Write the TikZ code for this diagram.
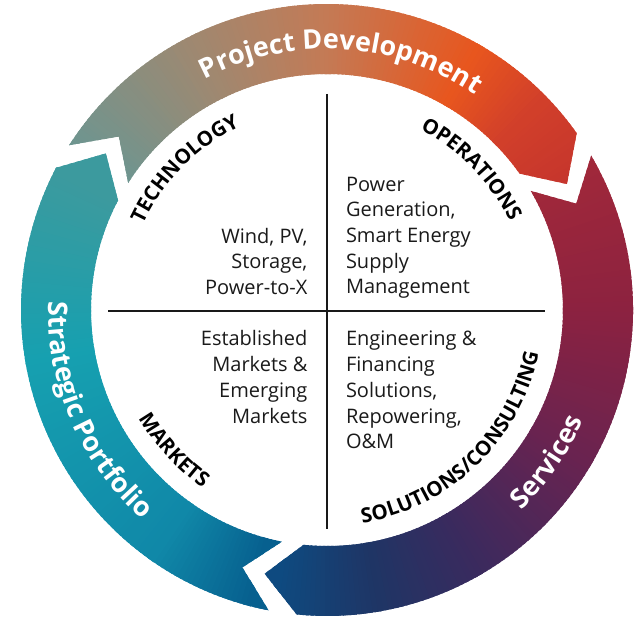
\documentclass[tikz,border=0pt]{standalone}
\usepackage{fontspec}
\setmainfont{Open Sans}
\usetikzlibrary{decorations.text,calc}

\definecolor{pdA}{HTML}{6E9590}
\definecolor{pdB}{HTML}{A08870}
\definecolor{pdC}{HTML}{C47A55}
\definecolor{pdD}{HTML}{E8561E}
\definecolor{pdE}{HTML}{D2402A}
\definecolor{pdF}{HTML}{C0302E}
\definecolor{svA}{HTML}{A82A38}
\definecolor{svB}{HTML}{8C2240}
\definecolor{svC}{HTML}{6A2350}
\definecolor{svD}{HTML}{3A2A5E}
\definecolor{svE}{HTML}{1F3565}
\definecolor{svF}{HTML}{0E4A80}
\definecolor{spA}{HTML}{07608F}
\definecolor{spB}{HTML}{1088A8}
\definecolor{spC}{HTML}{16A0B0}
\definecolor{spD}{HTML}{3C9A9E}
\definecolor{bodytext}{HTML}{1A1A1A}

% clip to one ring arrow: tail angle, head angle (clockwise)
\newcommand\cliparrow[2]{%
  \clip ($(C)+(#1:306pt)$) arc[start angle=#1, end angle=#2, radius=306pt]
    -- ($(C)+({#2-7.6}:271pt)$) -- ($(C)+(#2:236pt)$)
    arc[start angle=#2, end angle=#1, radius=236pt]
    -- ($(C)+({#1-7.2}:271pt)$) -- cycle;}

% angular gradient wedges from angle #1 down to #2, colour #3 -> #4
\newcommand\gradseg[4]{%
  \pgfmathtruncatemacro\gsn{#1-(#2)}%
  \foreach \i in {0,...,\gsn}{%
    \pgfmathsetmacro\gsa{#1-\i}%
    \pgfmathtruncatemacro\gsp{100*\i/\gsn}%
    \fill[#4!\gsp!#3] (C) -- ($(C)+({\gsa+0.6}:335pt)$) -- ($(C)+({\gsa-1}:335pt)$) -- cycle;
  }}

\tikzset{
  ringlabel/.style={decorate, decoration={text along path, text align=center, text={#1}}},
  body/.style={font=\fontsize{20}{25.7}\selectfont, text=bodytext, inner sep=0pt},
  quadline/.style={line width=1.8pt, draw=black!90}
}

\begin{document}
\begin{tikzpicture}[x=1pt,y=1pt]
\useasboundingbox (0,0) rectangle (641,618);
\coordinate (C) at (327,308);

% Project Development arrow
\begin{scope}
  \cliparrow{147.4}{35.3}
  \gradseg{160}{147}{pdA}{pdA}
  \gradseg{147}{116}{pdA}{pdB}
  \gradseg{116}{90}{pdB}{pdC}
  \gradseg{90}{60}{pdC}{pdD}
  \gradseg{60}{45}{pdD}{pdE}
  \gradseg{45}{20}{pdE}{pdF}
\end{scope}

% Services arrow
\begin{scope}
  \cliparrow{30.3}{-95.7}
  \gradseg{40}{0}{svA}{svB}
  \gradseg{0}{-30}{svB}{svC}
  \gradseg{-30}{-60}{svC}{svD}
  \gradseg{-60}{-80}{svD}{svE}
  \gradseg{-80}{-100}{svE}{svF}
  \gradseg{-100}{-112}{svF}{svF}
\end{scope}

% Strategic Portfolio arrow
\begin{scope}
  \cliparrow{-101}{-207.7}
  \gradseg{-90}{-105}{spA}{spA}
  \gradseg{-105}{-125}{spA}{spB}
  \gradseg{-125}{-170}{spB}{spC}
  \gradseg{-170}{-207}{spC}{spD}
  \gradseg{-207}{-222}{spD}{spD}
\end{scope}

% ring labels
\path[ringlabel={|\fontsize{27}{30}\selectfont\bfseries\color{white}|Project Development}]
  ($(C)+(146.7:261pt)$) arc[start angle=146.7, end angle=26.7, radius=261pt];
\path[ringlabel={|\fontsize{27}{30}\selectfont\bfseries\color{white}|Strategic Portfolio}]
  ($(C)+(143.5:279pt)$) arc[start angle=143.5, end angle=263.5, radius=279pt];
\path[ringlabel={|\fontsize{27}{30}\selectfont\bfseries\color{white}|Services}]
  ($(C)+(265.4:279pt)$) arc[start angle=265.4, end angle=385.4, radius=279pt];

% quadrant lines
\coordinate (qt) at (327,524);
\coordinate (qb) at (327,89);
\coordinate (ql) at (108,307);
\coordinate (qr) at (545,307);
\draw[quadline] (qt) -- (qb);
\draw[quadline] (ql) -- (qr);

% quadrant labels
\path[ringlabel={|\fontsize{20.5}{24}\selectfont\bfseries\color{black}|TECHNOLOGY}]
  ($(C)+(195.2:203pt)$) arc[start angle=195.2, end angle=75.2, radius=203pt];
\path[ringlabel={|\fontsize{20.5}{24}\selectfont\bfseries\color{black}|OPERATIONS}]
  ($(C)+(104.2:203pt)$) arc[start angle=104.2, end angle=-15.8, radius=203pt];
\path[ringlabel={|\fontsize{20.5}{24}\selectfont\bfseries\color{black}|MARKETS}]
  ($(C)+(162.5:217pt)$) arc[start angle=162.5, end angle=282.5, radius=217pt];
\path[ringlabel={|\fontsize{20.5}{24}\selectfont\bfseries\color{black}|SOLUTIONS/CONSULTING}]
  ($(C)+(254:216pt)$) arc[start angle=254, end angle=374, radius=216pt];

% body texts
\node[body, anchor=north east, align=right] (tech) at (307.6,393)
  {\strut Wind, PV,\\Storage,\\Power-to-X};
\node[body, anchor=north west, align=left] (ops) at (345.8,445)
  {\strut Power\\Generation,\\Smart Energy\\Supply\\Management};
\node[body, anchor=north east, align=right] (mkt) at (307.6,290.2)
  {\strut Established\\Markets \&\\Emerging\\Markets};
\node[body, anchor=north west, align=left] (sol) at (345.8,290.2)
  {\strut Engineering \&\\Financing\\Solutions,\\Repowering,\\O\&M};
\end{tikzpicture}
\end{document}
